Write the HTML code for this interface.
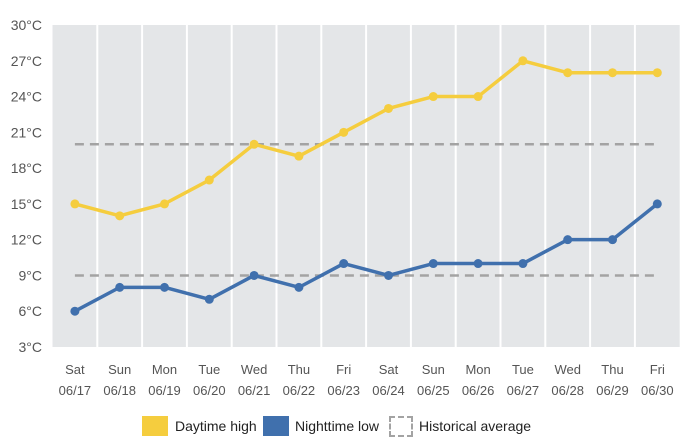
<!DOCTYPE html>
<html><head><meta charset="utf-8"><style>
body{margin:0;background:#fff;font-family:"Liberation Sans",sans-serif}
svg text{font-family:"Liberation Sans",sans-serif;fill:#555}
</style></head><body>
<svg id="c" width="697" height="443"></svg>
<script>
const days=["Sat","Sun","Mon","Tue","Wed","Thu","Fri","Sat","Sun","Mon","Tue","Wed","Thu","Fri"];
const dates=["06/17","06/18","06/19","06/20","06/21","06/22","06/23","06/24","06/25","06/26","06/27","06/28","06/29","06/30"];
const highs=[15,14,15,17,20,19,21,23,24,24,27,26,26,26];
const lows=[6,8,8,7,9,8,10,9,10,10,10,12,12,15];
const histHigh=20;
const histLow=9;
const yTicks=[3,6,9,12,15,18,21,24,27,30];
const svg=document.getElementById('c');
const NS='http://www.w3.org/2000/svg';
const L=52.5,R=679.7,T=25,B=347,bw=(R-L)/days.length;
const x=i=>L+bw*(i+0.5);
const y=v=>B-(v-3)/(30-3)*(B-T);
function mk(tag,a,p){const e=document.createElementNS(NS,tag);for(const k in a)e.setAttribute(k,a[k]);(p||svg).appendChild(e);return e;}
const bg=mk('rect',{x:L,y:T,width:R-L,height:B-T,fill:'#e4e6e8'});


for(let i=1;i<days.length;i++){const g=mk('line',{x1:L+bw*i,x2:L+bw*i,y1:T,y2:B,stroke:'#fff','stroke-width':2});

}
yTicks.forEach(v=>{const t=mk('text',{x:42,y:y(v)+5,'text-anchor':'end','font-size':14});t.textContent=v+'°C';

});
days.forEach((d,i)=>{const t=mk('text',{x:x(i),y:374,'text-anchor':'middle','font-size':13});t.textContent=d;


const t2=mk('text',{x:x(i),y:395,'text-anchor':'middle','font-size':13});t2.textContent=dates[i];

});
[histHigh,histLow].forEach(v=>{const l=mk('line',{x1:x(0),x2:x(days.length-1),y1:y(v),y2:y(v),stroke:'#a3a3a3','stroke-width':2.5,'stroke-dasharray':'9,6'});

});
function series(vals,col,name){const p=mk('polyline',{points:vals.map((v,i)=>x(i)+','+y(v)).join(' '),fill:'none',stroke:col,'stroke-width':3.5,'stroke-linejoin':'round'});


vals.forEach((v,i)=>{const c=mk('circle',{cx:x(i),cy:y(v),r:4.5,fill:col});

});}
series(highs,'#f5cd3e','daytime-high');
series(lows,'#4070ad','nighttime-low');
</script>
<div style="position:absolute;left:0;top:416px;width:697px;height:22px;font-size:14px;color:#222">
<div style="position:absolute;left:142px;top:0;width:26px;height:20px;background:#f5cd3e"></div>
<div style="position:absolute;left:175px;top:2px">Daytime high</div>
<div style="position:absolute;left:263px;top:0;width:26px;height:20px;background:#4070ad"></div>
<div style="position:absolute;left:295px;top:2px">Nighttime low</div>
<div style="position:absolute;left:389px;top:0;width:20px;height:17px;border:2px dashed #a3a3a3"></div>
<div style="position:absolute;left:419px;top:2px">Historical average</div>
</div>
</body></html>
